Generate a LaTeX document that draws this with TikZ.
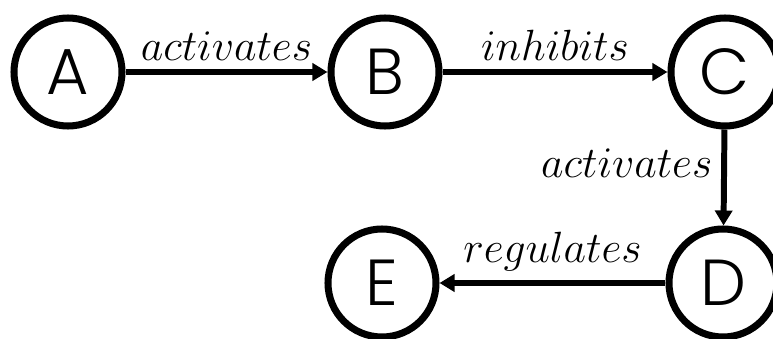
\documentclass[tikz,border=0pt]{standalone}
\usepackage{fontspec}
\usepackage{tikz}
\usetikzlibrary{positioning}
\usetikzlibrary{arrows,arrows.meta}
\newfontfamily\genefont{Poppins Light}

\begin{document}
\begin{tikzpicture}[scale=1.0,
        gene/.style={draw, shape=circle, line width=4pt, minimum size=2.16cm, inner sep=0pt, font=\genefont\fontsize{37}{40}\selectfont},
        link/.style={-{Triangle[length=0.3cm,width=0.34cm]}, line width=3.4pt},
        verb/.style={font=\fontsize{23.6}{28}\selectfont, inner sep=5pt}]
        \useasboundingbox (0cm,0cm) rectangle (15.46cm,6.78cm);

        \node[gene] (geneA) at (1.36cm,5.34cm) {A};
        \node[gene] (geneB) at (7.70cm,5.34cm) {B};
        \node[gene] (geneC) at (14.50cm,5.34cm) {C};
        \node[gene] (geneD) at (14.46cm,1.12cm) {D};
        \node[gene] (geneE) at (7.64cm,1.12cm) {E};

        \draw[link] (geneA) -- node[verb, above] {$activates$} (geneB);
        \draw[link] (geneB) -- node[verb, above] {$inhibits$} (geneC);
        \draw[link] (geneC) -- node[verb, left, pos=0.35] {$activates$} (geneD);
        \draw[link] (geneD) -- node[verb, above] {$regulates$} (geneE);

        \end{tikzpicture}
\end{document}
